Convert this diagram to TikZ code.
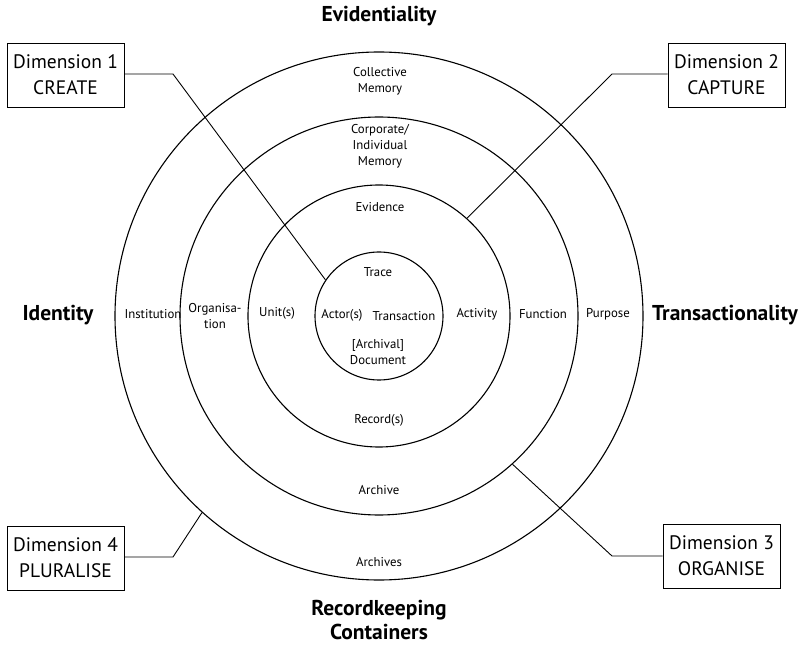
\documentclass[tikz,border=0pt]{standalone}
\usepackage{fontspec}
\setmainfont{PT Sans}
\begin{document}
\begin{tikzpicture}[x=1pt,y=-1pt,
  ring/.style={circle,draw,line width=1.1pt,inner sep=0pt},
  lbl/.style={font=\fontsize{12.8}{16}\selectfont,align=center,inner sep=0pt},
  ttl/.style={font=\fontsize{21.5}{24}\selectfont\bfseries,align=center,inner sep=0pt},
  dimbox/.style={draw,line width=0.8pt,minimum width=117pt,minimum height=64pt,align=center,inner sep=0pt,font=\fontsize{19.5}{26}\selectfont},
  conn/.style={line width=0.9pt}]
\useasboundingbox (0,0) rectangle (804,647);
\fill[white] (0,0) rectangle (804,647);
\node[ring,minimum size=528pt] (c4) at (379,316) {};
\node[ring,minimum size=398pt] (c3) at (379,316) {};
\node[ring,minimum size=262pt] (c2) at (379,316) {};
\node[ring,minimum size=128pt] (c1) at (379,316) {};
% titles
\node[ttl] (tev) at (379,16) {Evidentiality};
\node[ttl] (tid) at (58,315) {Identity};
\node[ttl] (ttr) at (725,315) {Transactionality};
\node[ttl] (trc) at (379,620) {Recordkeeping\\Containers};
% ring labels
\node[lbl] (lcm) at (380,81) {Collective\\Memory};
\node[lbl] (lci) at (380,146) {Corporate/\\Individual\\Memory};
\node[lbl] (lev) at (380,207) {Evidence};
\node[lbl] (ltr) at (378,272) {Trace};
\node[lbl] (lac) at (342,315) {Actor(s)};
\node[lbl] (lts) at (404,316) {Transaction};
\node[lbl] (ldo) at (378,352) {[Archival]\\Document};
\node[lbl] (lav) at (477,314) {Activity};
\node[lbl] (lfu) at (543,314) {Function};
\node[lbl] (lpu) at (608,314) {Purpose};
\node[lbl] (lun) at (277,313) {Unit(s)};
\node[lbl] (lor) at (215,316) {Organisa-\\tion};
\node[lbl] (lin) at (153,314) {Institution};
\node[lbl] (lre) at (379,420) {Record(s)};
\node[lbl] (lar) at (379,490) {Archive};
\node[lbl] (las) at (379,562) {Archives};
% dimension boxes
\node[dimbox] (d1) at (65.5,75) {Dimension 1\\CREATE};
\node[dimbox] (d2) at (726.5,75) {Dimension 2\\CAPTURE};
\node[dimbox] (d4) at (65.5,558) {Dimension 4\\PLURALISE};
\node[dimbox] (d3) at (721.5,556) {Dimension 3\\ORGANISE};
% bends
\coordinate (b1) at (173,74);
\coordinate (b2) at (612,74);
\coordinate (b4) at (173,557);
\coordinate (b3) at (612,556);
\draw[conn] (d1.east |- b1) -- (b1) -- (c1.146.8);
\draw[conn] (d2.west |- b2) -- (b2) -- (c2.48.7);
\draw[conn] (d4.east |- b4) -- (b4) -- (c4.228.5);
\draw[conn] (d3.west |- b3) -- (b3) -- (c3.-48.4);
\end{tikzpicture}
\end{document}
